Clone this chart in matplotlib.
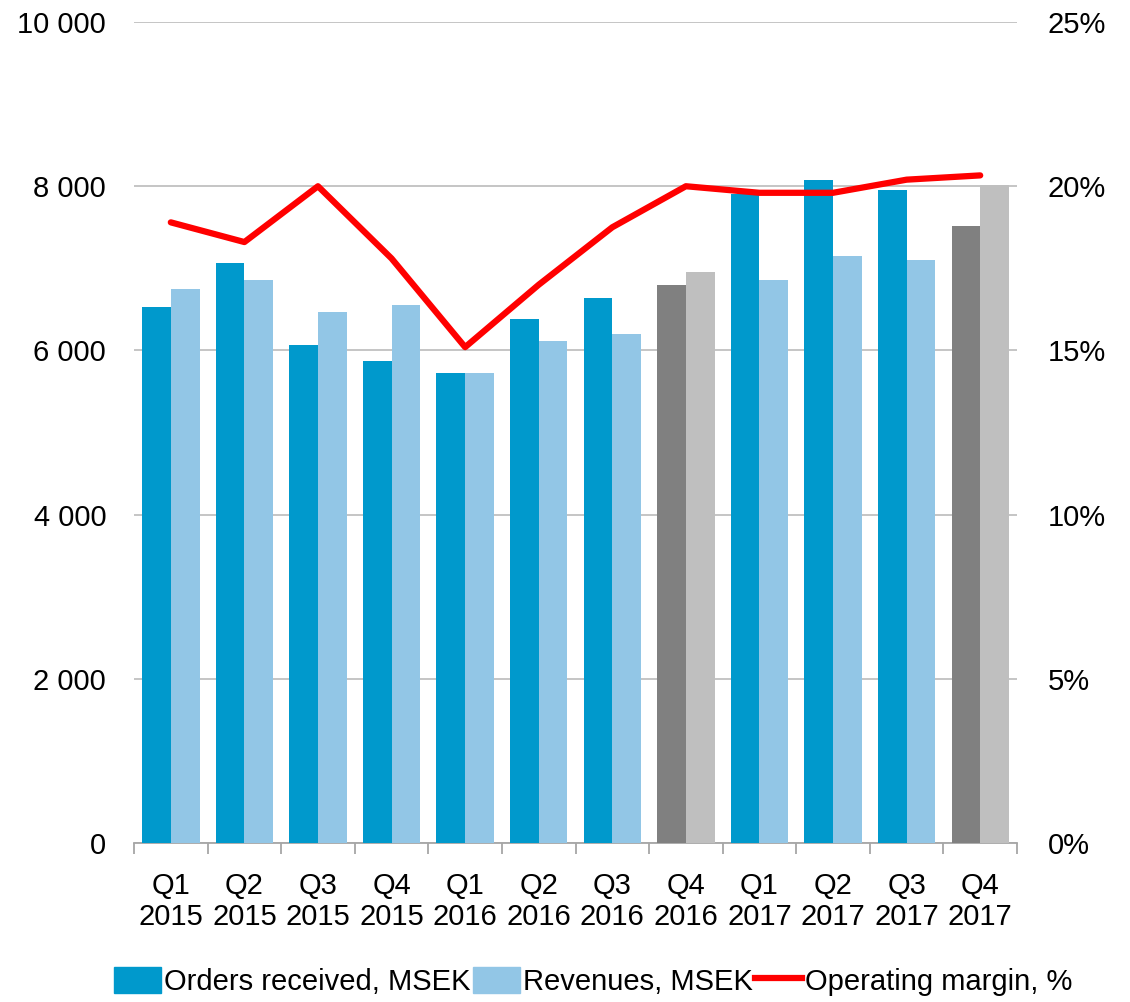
import numpy as np
import matplotlib.pyplot as plt
from matplotlib.patches import Patch
from matplotlib.lines import Line2D
from matplotlib.ticker import FuncFormatter

plt.rcParams['font.family'] = ['Liberation Sans', 'DejaVu Sans']

quarters = ['Q1\n2015', 'Q2\n2015', 'Q3\n2015', 'Q4\n2015',
            'Q1\n2016', 'Q2\n2016', 'Q3\n2016', 'Q4\n2016',
            'Q1\n2017', 'Q2\n2017', 'Q3\n2017', 'Q4\n2017']
orders = [6530, 7060, 6070, 5870, 5720, 6380, 6640, 6800, 7910, 8070, 7960, 7520]
revenues = [6750, 6860, 6470, 6550, 5720, 6110, 6200, 6960, 6860, 7150, 7100, 8010]
margin = [18.9, 18.3, 20.0, 17.8, 15.1, 17.0, 18.75, 20.0, 19.8, 19.8, 20.2, 20.33]
greyed = [False, False, False, False, False, False, False, True, False, False, False, True]

blue = '#0099CC'
light_blue = '#92C6E6'
dark_grey = '#808080'
light_grey = '#BFBFBF'
red = '#FF0000'
fs = 21

fig = plt.figure(figsize=(11.3, 10.02), dpi=100)
ax = fig.add_axes([0.1186, 0.1587, 0.9 - 0.1186, 0.978 - 0.1587])

x = np.arange(len(quarters))
w = 0.39
col_o = [dark_grey if g else blue for g in greyed]
col_r = [light_grey if g else light_blue for g in greyed]
ax.bar(x - w / 2, orders, w, color=col_o, zorder=3)
ax.bar(x + w / 2, revenues, w, color=col_r, zorder=3)

ax.set_xlim(-0.5, len(quarters) - 0.5)
ax.set_ylim(0, 10000)
ax.set_yticks(np.arange(0, 10001, 2000))
ax.yaxis.set_major_formatter(FuncFormatter(lambda v, p: f'{int(v):,}'.replace(',', ' ')))
ax.grid(axis='y', color='#C0C0C0', linewidth=1.3, zorder=0)
ax.set_axisbelow(True)
for s in ['left', 'right', 'top']:
    ax.spines[s].set_visible(False)
ax.spines['bottom'].set_color('#A6A6A6')
ax.spines['bottom'].set_linewidth(1.3)

ax.set_xticks(x)
ax.set_xticklabels(quarters, fontsize=fs, linespacing=1.12)
ax.set_xticks(np.arange(-0.5, len(quarters), 1), minor=True)
ax.tick_params(axis='x', which='major', length=0, pad=21)
ax.tick_params(axis='x', which='minor', length=8, color='#A6A6A6', width=1.3)
ax.tick_params(axis='y', length=0, labelsize=fs, pad=20)

ax2 = ax.twinx()
ax2.plot(x, margin, color=red, linewidth=4.5, solid_capstyle='round', zorder=4)
ax2.set_ylim(0, 25)
ax2.set_yticks(np.arange(0, 26, 5))
ax2.yaxis.set_major_formatter(FuncFormatter(lambda v, p: f'{int(v)}%'))
ax2.tick_params(axis='y', length=0, labelsize=fs, pad=22)
for s in ax2.spines.values():
    s.set_visible(False)

handles = [Patch(color=blue), Patch(color=light_blue),
           Line2D([], [], color=red, linewidth=4.5)]
labels = ['Orders received, MSEK', 'Revenues, MSEK', 'Operating margin, %']
fig.legend(handles, labels, loc='lower center', bbox_to_anchor=(0.525, -0.02),
           ncol=3, frameon=False, fontsize=fs, handlelength=1.6, handleheight=1.0,
           handletextpad=0.1, columnspacing=0.1)

fig.savefig('out.png', dpi=100)
